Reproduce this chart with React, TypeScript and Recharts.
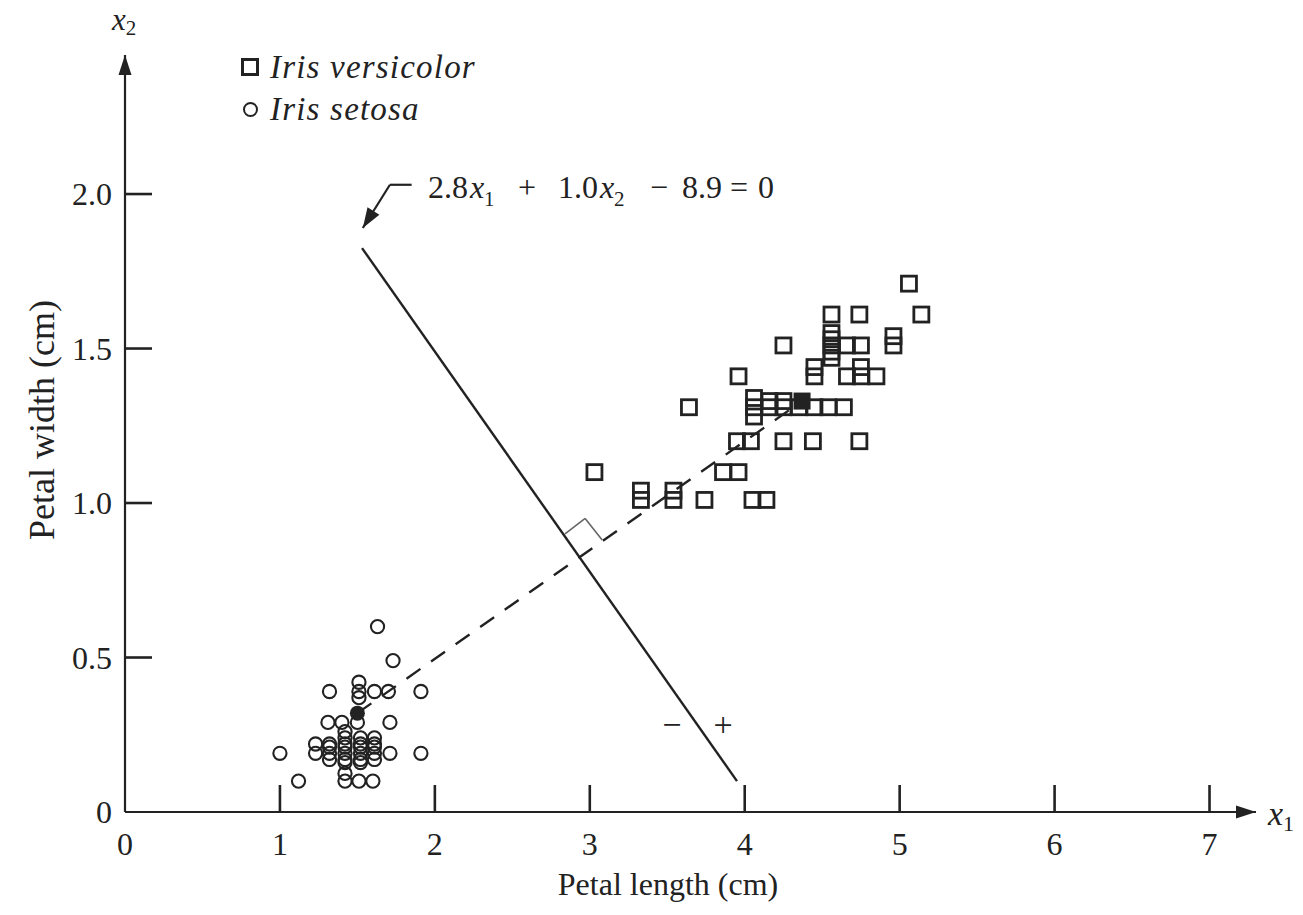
import React from 'react';
import { ScatterChart, Scatter, XAxis, YAxis, ReferenceLine, ReferenceDot, Legend } from 'recharts';

const FONT = "'Liberation Serif', 'Times New Roman', serif";
const INK = '#222';

// axis ticks
const xTicks = [0, 1, 2, 3, 4, 5, 6, 7];
const yTicks = [0, 0.5, 1.0, 1.5, 2.0];
const X_MAX = 7.3;
const Y_MAX = 2.45;

const seriesNames = ['Iris versicolor', 'Iris setosa'];

// petal length, petal width (duplicates are drawn slightly shifted, as in the figure)
const setosa: [number, number][] = [
  [1.0, 0.19], [1.12, 0.1],
  [1.23, 0.22], [1.23, 0.19],
  [1.32, 0.22], [1.32, 0.21], [1.32, 0.19], [1.32, 0.17],
  [1.42, 0.26], [1.42, 0.24], [1.42, 0.22], [1.42, 0.21], [1.42, 0.19], [1.42, 0.17], [1.42, 0.16],
  [1.52, 0.24], [1.52, 0.22], [1.52, 0.21], [1.52, 0.19], [1.52, 0.17], [1.52, 0.16],
  [1.61, 0.24], [1.61, 0.22], [1.61, 0.21], [1.61, 0.19], [1.61, 0.17],
  [1.71, 0.19], [1.91, 0.19],
  [1.42, 0.1], [1.42, 0.125], [1.51, 0.1], [1.6, 0.1],
  [1.31, 0.29], [1.4, 0.29], [1.5, 0.29], [1.71, 0.29],
  [1.32, 0.39], [1.51, 0.42], [1.51, 0.39], [1.51, 0.37], [1.61, 0.39], [1.7, 0.39], [1.91, 0.39],
  [1.73, 0.49], [1.63, 0.6],
];

const versicolor: [number, number][] = [
  [5.06, 1.71],
  [4.56, 1.61], [4.74, 1.61], [5.14, 1.61],
  [4.25, 1.51], [4.56, 1.55], [4.56, 1.53], [4.56, 1.51], [4.56, 1.49], [4.56, 1.47],
  [4.66, 1.51], [4.75, 1.51], [4.96, 1.51], [4.96, 1.54],
  [3.96, 1.41], [4.45, 1.41], [4.45, 1.44], [4.66, 1.41], [4.75, 1.41], [4.75, 1.44], [4.85, 1.41],
  [3.64, 1.31], [4.06, 1.31], [4.06, 1.34], [4.06, 1.28], [4.16, 1.31], [4.16, 1.33],
  [4.25, 1.31], [4.25, 1.33], [4.35, 1.31], [4.45, 1.31], [4.54, 1.31], [4.64, 1.31],
  [3.95, 1.2], [4.04, 1.2], [4.25, 1.2], [4.44, 1.2], [4.74, 1.2],
  [3.03, 1.1], [3.86, 1.1], [3.96, 1.1],
  [3.33, 1.01], [3.33, 1.04], [3.54, 1.01], [3.54, 1.04], [3.74, 1.01], [4.05, 1.01], [4.14, 1.01],
];

const setosaMean: [number, number] = [1.5, 0.32];
const versicolorMean: [number, number] = [4.37, 1.33];

// decision boundary, right-angle mark, leader to the equation
const boundary: [number, number][] = [[1.53, 1.825], [3.95, 0.1]];
const rightAngle: [number, number][] = [[2.84, 0.9], [2.97, 0.95], [3.08, 0.88]];
const leader: [number, number][] = [[1.85, 2.03], [1.71, 2.03], [1.535, 1.89]];
const equationAt: [number, number] = [1.955, 1.987];
const signs = [
  { text: '\u2212', x: 3.53, y: 0.28 },
  { text: '+', x: 3.86, y: 0.28 },
];

const W = 1303;
const H = 915;
const MARGIN = { top: 55, right: 47, bottom: 43, left: 65 };
const Y_AXIS_W = 60;
const X_AXIS_H = 60;
const PLOT_L = MARGIN.left + Y_AXIS_W;
const PLOT_B = H - MARGIN.bottom - X_AXIS_H;
const PX = (W - PLOT_L - MARGIN.right) / X_MAX;
const PY = (PLOT_B - MARGIN.top) / Y_MAX;

const toPoints = (arr: [number, number][]) => arr.map(([x, y]) => ({ x, y }));

const OpenSquare = (p: any) => (
  <rect x={p.cx - 7.5} y={p.cy - 7.5} width={15} height={15} fill="none" stroke={INK} strokeWidth={2.8} />
);
const OpenCircle = (p: any) => (
  <circle cx={p.cx} cy={p.cy} r={6.6} fill="none" stroke={INK} strokeWidth={2.1} />
);
const MeanMark = (p: any) =>
  p.payload.kind === 'square' ? (
    <rect x={p.cx - 8.5} y={p.cy - 8.5} width={17} height={17} fill={INK} />
  ) : (
    <circle cx={p.cx} cy={p.cy} r={7.5} fill={INK} />
  );

const arrowHead = (angle: number, len = 20, half = 6.5) => (p: any) => (
  <polygon
    points={`0,0 ${-len},${-half} ${-len},${half}`}
    transform={`translate(${p.cx},${p.cy}) rotate(${angle})`}
    fill={INK}
  />
);

const leaderAngle =
  (Math.atan2(-(leader[2][1] - leader[1][1]) * PY, (leader[2][0] - leader[1][0]) * PX) * 180) / Math.PI;

const XTick = ({ x, y, payload }: any) => (
  <g>
    {payload.value !== 0 && <line x1={x} x2={x} y1={y} y2={y - 27} stroke={INK} strokeWidth={2.6} />}
    <text x={x} y={y + 43} textAnchor="middle" fontFamily={FONT} fontSize={32} fill={INK}>
      {payload.value}
    </text>
  </g>
);

const YTick = ({ x, y, payload }: any) => (
  <g>
    {payload.value !== 0 && <line x1={x} x2={x + 27} y1={y} y2={y} stroke={INK} strokeWidth={2.6} />}
    <text x={x - 13} y={y + 11} textAnchor="end" fontFamily={FONT} fontSize={32} fill={INK}>
      {payload.value === 0 ? '0' : payload.value.toFixed(1)}
    </text>
  </g>
);

const Equation = (p: any) => (
  <text y={p.cy} fontFamily={FONT} fontSize={32} fill={INK}>
    <tspan x={p.cx}>2.8</tspan>
    <tspan fontStyle="italic" x={p.cx + 42}>x</tspan>
    <tspan fontSize={21} dy={8}>1</tspan>
    <tspan x={p.cx + 90} dy={-8}>+</tspan>
    <tspan x={p.cx + 130}>1.0</tspan>
    <tspan fontStyle="italic" x={p.cx + 172}>x</tspan>
    <tspan fontSize={21} dy={8}>2</tspan>
    <tspan x={p.cx + 222} dy={-8}>{'\u2212'}</tspan>
    <tspan x={p.cx + 254}>8.9</tspan>
    <tspan x={p.cx + 302}>=</tspan>
    <tspan x={p.cx + 330}>0</tspan>
  </text>
);

const SignText = (text: string) => (p: any) => (
  <text x={p.cx} y={p.cy + 11} textAnchor="middle" fontFamily={FONT} fontSize={34} fill={INK}>
    {text}
  </text>
);

const XTitle = () => (
  <g fontFamily={FONT} fill={INK}>
    <text x={668} y={895} textAnchor="middle" fontSize={32}>Petal length (cm)</text>
    <text x={1268} y={825} fontSize={34} fontStyle="italic">
      x<tspan fontSize={22} fontStyle="normal" dy={6}>1</tspan>
    </text>
  </g>
);

const YTitle = () => (
  <g fontFamily={FONT} fill={INK}>
    <text x={54} y={420} transform="rotate(-90 54 420)" textAnchor="middle" fontSize={36}>
      Petal width (cm)
    </text>
    <text x={112} y={30} fontSize={31} fontStyle="italic">
      x<tspan fontSize={21} fontStyle="normal" dy={5}>2</tspan>
    </text>
  </g>
);

const LegendBox = () => (
  <div style={{ fontFamily: FONT, fontSize: 33, fontStyle: 'italic', color: INK, lineHeight: '42px', letterSpacing: 1.2 }}>
    <div style={{ display: 'flex', alignItems: 'center' }}>
      <span style={{ width: 12, height: 12, border: `3px solid ${INK}`, marginRight: 11, display: 'inline-block' }} />
      {seriesNames[0]}
    </div>
    <div style={{ display: 'flex', alignItems: 'center' }}>
      <span style={{ width: 11, height: 11, border: `2px solid ${INK}`, borderRadius: '50%', marginRight: 12, marginLeft: 2, display: 'inline-block' }} />
      {seriesNames[1]}
    </div>
  </div>
);

export default function App() {
  const seg = (a: [number, number], b: [number, number]) => [
    { x: a[0], y: a[1] },
    { x: b[0], y: b[1] },
  ];
  return (
    <div style={{ position: 'absolute', left: 0, top: 0, width: W, height: H, background: '#fff' }}>
      <ScatterChart width={W} height={H} margin={MARGIN}>
        <XAxis
          type="number"
          dataKey="x"
          domain={[0, X_MAX]}
          ticks={xTicks}
          height={X_AXIS_H}
          tickSize={0}
          tickMargin={0}
          tickLine={false}
          tick={<XTick />}
          axisLine={{ stroke: INK, strokeWidth: 2.2 }}
          label={<XTitle />}
          allowDataOverflow
        />
        <YAxis
          type="number"
          dataKey="y"
          domain={[0, Y_MAX]}
          ticks={yTicks}
          width={Y_AXIS_W}
          tickSize={0}
          tickMargin={0}
          tickLine={false}
          tick={<YTick />}
          axisLine={{ stroke: INK, strokeWidth: 2.2 }}
          label={<YTitle />}
          allowDataOverflow
        />
        <Legend
          layout="vertical"
          align="center"
          verticalAlign="middle"
          content={() => <LegendBox />}
          wrapperStyle={{ top: 46, left: 241, right: 'auto', bottom: 'auto', width: 'auto' }}
        />
        <ReferenceLine segment={seg(boundary[0], boundary[1])} stroke={INK} strokeWidth={2.4} ifOverflow="visible" />
        <ReferenceLine
          segment={seg(setosaMean, versicolorMean)}
          stroke={INK}
          strokeWidth={2.4}
          strokeDasharray="17 13"
          ifOverflow="visible"
        />
        <ReferenceLine segment={seg(rightAngle[0], rightAngle[1])} stroke="#666" strokeWidth={1.6} ifOverflow="visible" />
        <ReferenceLine segment={seg(rightAngle[1], rightAngle[2])} stroke="#666" strokeWidth={1.6} ifOverflow="visible" />
        <ReferenceLine segment={seg(leader[0], leader[1])} stroke={INK} strokeWidth={2.2} ifOverflow="visible" />
        <ReferenceLine segment={seg(leader[1], leader[2])} stroke={INK} strokeWidth={2.2} ifOverflow="visible" />
        <ReferenceDot x={leader[2][0]} y={leader[2][1]} ifOverflow="visible" shape={arrowHead(leaderAngle, 20, 7)} />
        <ReferenceDot x={equationAt[0]} y={equationAt[1]} ifOverflow="visible" shape={Equation} />
        {signs.map((s) => (
          <ReferenceDot key={s.text} x={s.x} y={s.y} ifOverflow="visible" shape={SignText(s.text)} />
        ))}
        <ReferenceDot x={X_MAX} y={0} ifOverflow="visible" shape={arrowHead(0)} />
        <ReferenceDot x={0} y={Y_MAX} ifOverflow="visible" shape={arrowHead(-90)} />
        <Scatter name={seriesNames[0]} data={toPoints(versicolor)} shape={OpenSquare} isAnimationActive={false} />
        <Scatter name={seriesNames[1]} data={toPoints(setosa)} shape={OpenCircle} isAnimationActive={false} />
        <Scatter
          name="means"
          legendType="none"
          data={[
            { x: setosaMean[0], y: setosaMean[1], kind: 'circle' },
            { x: versicolorMean[0], y: versicolorMean[1], kind: 'square' },
          ]}
          shape={MeanMark}
          isAnimationActive={false}
        />
      </ScatterChart>
    </div>
  );
}
